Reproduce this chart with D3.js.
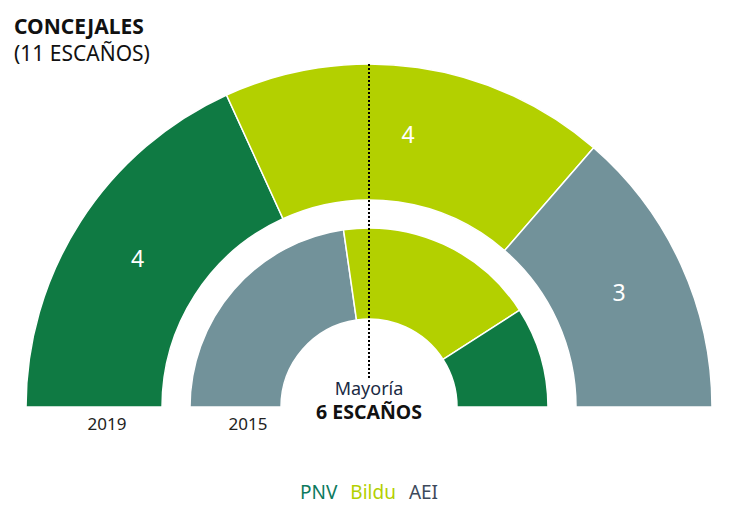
<!DOCTYPE html>
<html><head><meta charset="utf-8">
<script src="https://cdn.jsdelivr.net/npm/d3@7"></script>
<style>body{margin:0;background:#fff}svg{display:block;font-family:"Noto Sans",sans-serif}</style>
</head><body><svg id="c" width="745" height="511"></svg>
<script>
const parties = ["PNV","Bildu","AEI"];
const colors = ["#0f7a43","#b3d000","#72929a"];
const legendColors = ["#0e7a5e","#b3d000","#3d4a5c"];
const seats2019 = [4,4,3];
const order2015 = ["AEI","Bildu","PNV"];
const seats2015 = [5,4,2];
const years = ["2019","2015"];
const totalSeats = 11;

const svg = d3.select("#c");
const cx = 369, cy = 407;
const col = p => colors[parties.indexOf(p)];
const angle = d3.scaleLinear().domain([0,totalSeats]).range([-Math.PI/2, Math.PI/2]);

function ring(names, vals, r0, r1, labels){
  let acc = 0;
  const segs = names.map((n,i)=>{const s={name:n,v:vals[i],a0:angle(acc),a1:angle(acc+vals[i])};acc+=vals[i];return s;});
  const arc = d3.arc().innerRadius(r0).outerRadius(r1).startAngle(d=>d.a0).endAngle(d=>d.a1);
  const g = svg.append("g").attr("transform",`translate(${cx},${cy})`);
  g.selectAll("path").data(segs).join("path").attr("d",arc).attr("fill",d=>col(d.name))
    .attr("stroke","#fff").attr("stroke-width",1.5);
  if(labels){
    g.selectAll("text").data(segs).join("text")
      .attr("transform",d=>`translate(${arc.centroid(d)})`)
      .attr("text-anchor","middle").attr("dy","0.36em")
      .attr("fill","#fff").attr("font-size",23).text(d=>d.v);
  }
}
ring(parties, seats2019, 207, 343, true);
ring(order2015, seats2015, 88, 179, false);

svg.append("line").attr("x1",cx).attr("x2",cx).attr("y1",64).attr("y2",380)
  .attr("stroke","#000").attr("stroke-width",2).attr("stroke-dasharray","2,2");

svg.append("text").attr("x",14).attr("y",34).attr("font-size",21).attr("font-weight","bold").attr("fill","#111").text("CONCEJALES");
svg.append("text").attr("x",14).attr("y",61).attr("font-size",21).attr("fill","#111").text("(11 ESCAÑOS)");

svg.append("text").attr("x",cx).attr("y",395).attr("text-anchor","middle").attr("font-size",18).attr("fill","#1a2a44").text("Mayoría");
svg.append("text").attr("x",cx).attr("y",419).attr("text-anchor","middle").attr("font-size",19.5).attr("font-weight","bold").attr("fill","#111").text("6 ESCAÑOS");

const yearX = [107, 248];
svg.selectAll("text.yr").data(years).join("text").attr("class","yr")
  .attr("x",(d,i)=>yearX[i]).attr("y",430).attr("text-anchor","middle").attr("font-size",17).attr("fill","#222").text(d=>d);

const lg = svg.append("text").attr("x",369).attr("y",499).attr("text-anchor","middle").attr("font-size",19);
parties.forEach((p,i)=>{lg.append("tspan").attr("fill",legendColors[i]).attr("dx",i?13:0).text(p);});
</script></body></html>
